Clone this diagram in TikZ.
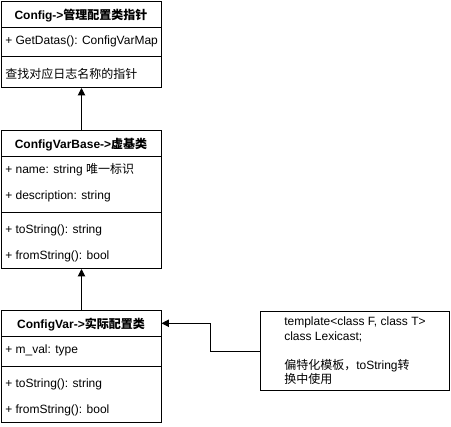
\documentclass[tikz,border=0pt]{standalone}
\usepackage{fontspec}
\setmainfont{Liberation Sans}
\newfontfamily\cjk{Noto Sans CJK SC}
\newcommand\zh[1]{{\cjk #1}}
\usetikzlibrary{arrows.meta}
\begin{document}
\begin{tikzpicture}[x=0.75pt,y=-0.75pt,
  box/.style={draw, line width=0.75pt, anchor=north west, minimum width=120pt, inner sep=0},
  hdr/.style={anchor=north west, minimum width=120pt, minimum height=19.5pt, inner sep=0},
  ttl/.style={anchor=base, inner sep=0, font=\fontsize{9}{10.8}\bfseries\selectfont},
  row/.style={anchor=base west, inner sep=0, font=\fontsize{9}{10.8}\selectfont},
  sep/.style={line width=0.75pt},
  arr/.style={line width=0.75pt, -{Triangle[length=5.5pt,width=5.5pt]}}]
\useasboundingbox (0,0) rectangle (451,426);

% Box 1
\node[box, minimum height=64.5pt] (b1) at (1,1) {};
\draw[sep] (1,27) -- (161,27);
\draw[sep] (1,56.5) -- (161,56.5);
\node[ttl] (t1) at (81,19.5) {Config->\zh{管理配置类指针}};
\node[row] (a1) at (5,44) {+ GetDatas(): ConfigVarMap};
\node[row] (m1) at (5,78) {\zh{查找对应日志名称的指针}};

% Box 2
\node[box, minimum height=103.5pt] (b2) at (1,130) {};
\draw[sep] (1,156) -- (161,156);
\draw[sep] (1,212) -- (161,212);
\node[ttl] (t2) at (81,148.5) {ConfigVarBase->\zh{虚基类}};
\node[row] (a2a) at (5,173) {+ name: string \zh{唯一标识}};
\node[row] (a2b) at (5,199) {+ description: string};
\node[row] (m2a) at (5,233) {+ toString(): string};
\node[row] (m2b) at (5,259) {+ fromString(): bool};

% Box 3
\node[box, minimum height=84pt] (b3) at (1,310) {};
\node[hdr] (h3) at (1,310) {};
\draw[sep] (1,336) -- (161,336);
\draw[sep] (1,366) -- (161,366);
\node[ttl] (t3) at (81,328.5) {ConfigVar->\zh{实际配置类}};
\node[row] (a3) at (5,353) {+ m\_val: type};
\node[row] (m3a) at (5,387) {+ toString(): string};
\node[row] (m3b) at (5,413) {+ fromString(): bool};

% Note
\node[box, minimum width=141.75pt, minimum height=59.25pt] (nt) at (260,311) {};
\node[row] (n1) at (284,325.5) {template<class F, class T>};
\node[row] (n2) at (284,340) {class Lexicast;};
\node[row] (n3) at (284,369) {\zh{偏特化模板，}toString\zh{转}};
\node[row] (n4) at (284,383.5) {\zh{换中使用}};

% Connectors
\draw[arr] (b2.north) -- (b1.south);
\draw[arr] (b3.north) -- (b2.south);
\coordinate (k) at (210.5,350);
\draw[arr] (nt.west) -- (nt.west -| k) |- (h3.east);
\end{tikzpicture}
\end{document}
